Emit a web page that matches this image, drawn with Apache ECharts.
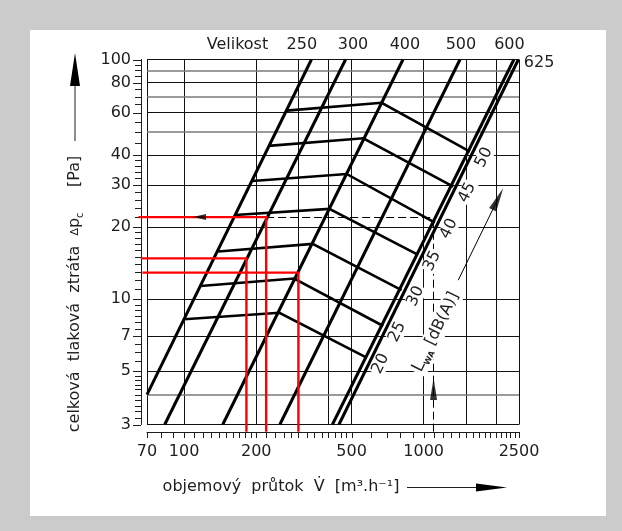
<!DOCTYPE html>
<html>
<head>
<meta charset="utf-8">
<script src="https://cdn.jsdelivr.net/npm/echarts@6/dist/echarts.min.js"></script>
<style>
  html, body { margin: 0; padding: 0; background: #cbcbcb; }
  #chart { width: 622px; height: 531px; }
</style>
</head>
<body>
<div id="chart"></div>
<script>
// osa x: objemovy prutok [m3/h], osa y: celkova tlakova ztrata [Pa]
const xGrid = [70, 100, 200, 300, 400, 500, 1000, 1500, 2000, 2500]
const yGrid = [3, 4, 5, 7, 10, 20, 30, 40, 50, 60, 70, 80, 90, 100]
const yGridGray = [4, 50, 70, 90]
const xTicks = [70, 80, 90, 100, 110, 120, 130, 140, 150, 160, 170, 180, 190, 200, 220, 240, 260, 280, 300,
  325, 350, 375, 400, 425, 450, 475, 500, 600, 700, 800, 900, 1000, 1100, 1200, 1300, 1400, 1500,
  1600, 1700, 1800, 1900, 2000, 2100, 2200, 2300, 2400, 2500]
const xLabels = [70, 100, 200, 500, 1000, 2500]
const yTicks = [3, 3.2, 3.4, 3.6, 3.8, 4, 4.2, 4.4, 4.6, 4.8, 5, 5.5, 6, 6.5, 7, 7.5, 8, 8.5, 9, 9.5, 10,
  11, 12, 13, 14, 15, 16, 17, 18, 19, 20, 22, 24, 26, 28, 30, 32, 34, 36, 38, 40, 45, 50, 55, 60,
  65, 70, 75, 80, 85, 90, 95, 100]
const yLabels = [3, 5, 7, 10, 20, 30, 40, 60, 80, 100]

// velikosti (primky dp ~ V^2)
const sizes = ['250', '300', '400', '500', '600', '625']
const sizeFrom = [[70, 4], [83, 3], [145, 3], [251, 3], [416, 3], [443, 3]]
const sizeTo = [[340, 100], [472, 100], [820, 100], [1418, 100], [2380, 100], [2485, 100]]
const sizeLabelFlow = [310, 507, 835, 1431, 2281]
const titleFlow = 167

// hladina akustickeho vykonu LwA [dB(A)]
const noiseLevels = [20, 25, 30, 35, 40, 45, 50]
const noiseStart = [[100, 8.24], [117, 11.35], [139, 15.8], [163, 22.45], [193, 31.1], [225, 43.6], [268, 61.2]]
const noiseKink = [[250, 8.78], [288, 12.2], [344, 17.0], [404, 23.8], [477, 33.3], [560, 46.9], [668, 66.0]]
const noiseEnd = [[578, 5.70], [678, 7.73], [809, 10.9], [949, 15.3], [1114, 20.85], [1329, 29.5], [1560, 41.3]]
const lwaLabelAt = [1125, 7.3]
const lwaArrow = [[1394, 12.0], [2042, 26.2]]

// priklad odectu
const readFlow = [182, 220, 300]
const readPressure = [14.8, 22, 12.9]
const readLeft = [66, 64.5, 67]
const readBottom = 2.8
const exampleFlow = 1100
const examplePressure = 22
const exampleRight = 1120

const FONT = '"DejaVu Sans", "Liberation Sans", sans-serif'
const INK = '#1e1e1e'
const DEG = Math.PI / 180

const chart = echarts.init(document.getElementById('chart'))

function linesSeries(name, data, color, width, z, extra) {
  return Object.assign({
    name: name,
    type: 'lines',
    coordinateSystem: 'cartesian2d',
    silent: true,
    clip: false,
    z: z,
    lineStyle: { color: color, width: width, opacity: 1, curveness: 0 },
    data: data
  }, extra || {})
}

function textSeries(points, texts, opts) {
  return {
    type: 'custom',
    coordinateSystem: 'cartesian2d',
    silent: true,
    clip: false,
    z: opts.z || 5,
    data: points,
    renderItem: function (params, api) {
      const p = api.coord([api.value(0), api.value(1)])
      const align = opts.align || 'center'
      return {
        type: 'text',
        x: p[0] + (opts.dx || 0),
        y: p[1] + (opts.dy || 0),
        rotation: (opts.rotate || 0) * DEG,
        style: Object.assign({
          text: texts[params.dataIndex],
          font: '16px ' + FONT,
          fill: INK,
          align: align,
          textAlign: align,
          verticalAlign: 'middle',
          textVerticalAlign: 'middle'
        }, opts.style || {})
      }
    }
  }
}

const axisBase = {
  type: 'log',
  logBase: 10,
  axisLine: { show: true, lineStyle: { color: INK, width: 1 } },
  axisTick: { show: false },
  minorTick: { show: false },
  axisLabel: { show: false },
  splitLine: { show: false }
}

const option = {
  backgroundColor: '#cbcbcb',
  animation: false,
  grid: { left: 147, top: 59.5, width: 372, height: 365 },
  xAxis: Object.assign({}, axisBase, { min: 70, max: 2500, offset: 7.5 }),
  yAxis: Object.assign({}, axisBase, { min: 3, max: 100, offset: 6 }),
  graphic: [
    { type: 'rect', shape: { x: 30, y: 30, width: 576, height: 486 }, style: { fill: '#ffffff' } },
    {
      type: 'text', x: 75, y: 294, rotation: Math.PI / 2,
      style: {
        text: '{n|celková  tlaková  ztráta  }{d|∆}{n|p}{s|c}{n|     [Pa]}',
        rich: {
          n: { font: '16px ' + FONT, fill: INK, lineHeight: 20 },
          d: { font: '11px ' + FONT, fill: INK, lineHeight: 20 },
          s: { font: '10px ' + FONT, fill: INK, lineHeight: 20, verticalAlign: 'bottom' }
        },
        align: 'center', textAlign: 'center', verticalAlign: 'middle', textVerticalAlign: 'middle'
      }
    },
    { type: 'line', shape: { x1: 75, y1: 141, x2: 75, y2: 84 }, style: { stroke: INK, lineWidth: 1 } },
    { type: 'polygon', shape: { points: [[70, 86], [75, 53], [80, 86]] }, style: { fill: '#000' } },
    {
      type: 'text', x: 281, y: 487,
      style: {
        text: 'objemový  průtok  V\u0307  [m³.h⁻¹]',
        font: '16px ' + FONT, fill: INK,
        align: 'center', textAlign: 'center', verticalAlign: 'middle', textVerticalAlign: 'middle'
      }
    },
    { type: 'line', shape: { x1: 407, y1: 487.5, x2: 478, y2: 487.5 }, style: { stroke: INK, lineWidth: 1 } },
    { type: 'polygon', shape: { points: [[476, 483.5], [507, 487.5], [476, 491.5]] }, style: { fill: '#000' } }
  ],
  series: [
    // mrizka
    linesSeries('gridX', xGrid.map(v => ({ coords: [[v, 3], [v, 100]] })), '#111', 1, 1),
    linesSeries('gridY', yGrid.filter(v => yGridGray.indexOf(v) < 0).map(v => ({ coords: [[70, v], [2500, v]] })), '#111', 1, 1),
    linesSeries('gridYGray', yGridGray.map(v => ({ coords: [[70, v], [2500, v]] })), '#7a7a7a', 1.6, 1),
    // priklad - carkovane cary
    linesSeries('example', [
      { coords: [[readFlow[1], examplePressure], [exampleRight, examplePressure]] },
      { coords: [[exampleFlow, readBottom], [exampleFlow, examplePressure]] }
    ], '#000', 1, 1.5, { lineStyle: { color: '#000', width: 1, opacity: 1, type: [8, 4] } }),
    // popisky LwA (pod silnymi carami)
    textSeries(noiseEnd, noiseLevels.map(String), {
      dx: 14, dy: 6, rotate: 64, z: 2,
      style: { backgroundColor: '#fff', padding: [0, 1] }
    }),
    textSeries([lwaLabelAt], ['{l|L}{w|WA} {n|[dB(A)]}'], {
      rotate: 64, z: 2,
      style: {
        backgroundColor: '#fff', padding: [0, 2],
        rich: {
          l: { font: '17px ' + FONT, fill: INK, lineHeight: 20 },
          w: { font: 'bold 8px ' + FONT, fill: INK, lineHeight: 20, verticalAlign: 'bottom' },
          n: { font: '16px ' + FONT, fill: INK, lineHeight: 20 }
        }
      }
    }),
    linesSeries('lwaArrow', [{ coords: lwaArrow }], '#000', 1, 3),
    // velikosti
    linesSeries('sizes', sizeFrom.map((p, i) => ({ name: sizes[i], coords: [p, sizeTo[i]] })), '#000', 3, 3),
    // krivky LwA
    linesSeries('noise', noiseLevels.map((lv, i) => ({ name: String(lv), coords: [noiseStart[i], noiseKink[i], noiseEnd[i]] })),
      '#000', 2.6, 3, { polyline: true }),
    // cervene odecty
    linesSeries('read', readFlow.map((f, i) => ({
      coords: [[f, readBottom], [f, readPressure[i]], [readLeft[i], readPressure[i]]]
    })), '#ff0000', 2.4, 4, { polyline: true }),
    // sipky
    {
      type: 'scatter', silent: true, z: 5,
      itemStyle: { color: '#000' },
      data: [
        { value: lwaArrow[1], symbol: 'triangle', symbolSize: [8, 24], symbolRotate: -26 },
        { value: [exampleFlow, 4.22], symbol: 'triangle', symbolSize: [7, 22] },
        { value: [116, examplePressure], symbol: 'triangle', symbolSize: [6, 13], symbolRotate: 90 }
      ]
    },
    // popisky velikosti
    textSeries(sizeLabelFlow.map(v => [v, 100]), sizes.slice(0, 5), { dy: -14.5 }),
    textSeries([[titleFlow, 100]], ['Velikost'], { dy: -14.5 }),
    textSeries([sizeTo[5]], [sizes[5]], { dx: 5.5, dy: 3, align: 'left' }),
    // znacky a popisky os
    {
      type: 'custom', coordinateSystem: 'cartesian2d', silent: true, clip: false, z: 3,
      data: xTicks.map(v => [v, 3]),
      renderItem: function (params, api) {
        const v = api.value(0)
        const p = api.coord([v, 3])
        const y0 = p[1] + 7.5
        const x = Math.round(p[0]) + 0.5
        const children = [{ type: 'line', shape: { x1: x, y1: y0, x2: x, y2: y0 + 6 }, style: { stroke: INK, lineWidth: 1 } }]
        if (xLabels.indexOf(v) >= 0) {
          children.push({ type: 'text', x: p[0], y: y0 + 20, style: {
            text: String(v), font: '16px ' + FONT, fill: INK,
            align: 'center', textAlign: 'center', verticalAlign: 'middle', textVerticalAlign: 'middle' } })
        }
        return { type: 'group', children: children }
      }
    },
    {
      type: 'custom', coordinateSystem: 'cartesian2d', silent: true, clip: false, z: 3,
      data: yTicks.map(v => [70, v]),
      renderItem: function (params, api) {
        const v = api.value(1)
        const p = api.coord([70, v])
        const x0 = p[0] - 6
        const y = Math.round(p[1]) + 0.5
        const len = yLabels.indexOf(v) >= 0 ? 8 : 6
        const children = [{ type: 'line', shape: { x1: x0 - len, y1: y, x2: x0, y2: y }, style: { stroke: INK, lineWidth: 1 } }]
        if (yLabels.indexOf(v) >= 0) {
          children.push({ type: 'text', x: x0 - 10, y: p[1], style: {
            text: String(v), font: '16px ' + FONT, fill: INK,
            align: 'right', textAlign: 'right', verticalAlign: 'middle', textVerticalAlign: 'middle' } })
        }
        return { type: 'group', children: children }
      }
    }
  ]
}

chart.setOption(option)
</script>
</body>
</html>
